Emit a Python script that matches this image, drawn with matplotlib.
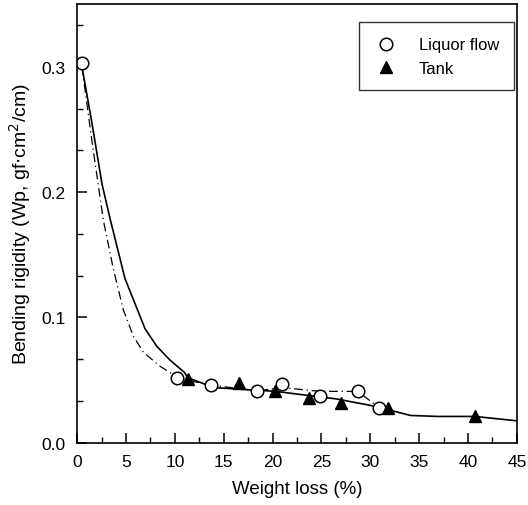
import matplotlib
matplotlib.use('Agg')
import matplotlib.pyplot as plt
from matplotlib.ticker import MultipleLocator, FormatStrFormatter

plt.rcParams['font.family'] = ['Liberation Sans', 'DejaVu Sans']

# Liquor flow (open circles)
liquor_x = [0.5, 10.2, 13.7, 18.4, 21.0, 24.9, 28.7, 30.9]
liquor_y = [0.303, 0.0516, 0.046, 0.0414, 0.047, 0.0374, 0.041, 0.028]

# Tank (filled triangles)
tank_x = [11.3, 16.6, 20.3, 23.7, 27.0, 31.8, 40.7]
tank_y = [0.051, 0.048, 0.041, 0.0355, 0.0315, 0.028, 0.021]

# fitted curve for tank (solid)
tank_fit_x = [0.5, 1.5, 2.56, 3.4, 4.9, 6.95, 8.15, 9.5, 11.0, 11.3, 14.0, 20.3, 26.5, 29.9, 32.0, 34.1, 36.9, 40.7, 45.0]
tank_fit_y = [0.300, 0.256, 0.206, 0.178, 0.131, 0.091, 0.077, 0.066, 0.056, 0.052, 0.044, 0.041, 0.035, 0.030, 0.026, 0.0218, 0.021, 0.021, 0.0175]

# dash-dot curve for liquor flow, then through the points
liquor_fit_x = [0.5, 1.53, 2.7, 3.7, 4.73, 5.76, 6.8, 8.5, 9.7, 10.2, 13.7, 18.4, 21.0, 24.9, 28.7, 30.9]
liquor_fit_y = [0.300, 0.240, 0.177, 0.139, 0.106, 0.085, 0.072, 0.061, 0.055, 0.0516, 0.046, 0.0414, 0.044, 0.041, 0.041, 0.028]

fig = plt.figure(figsize=(5.28, 5.06), dpi=100)
ax = fig.add_axes([0.146, 0.123, 0.833, 0.867])

ax.plot(liquor_fit_x, liquor_fit_y, color='black', linestyle=(0, (7, 3, 1, 3)), linewidth=0.9)
ax.plot(tank_fit_x, tank_fit_y, color='black', linestyle='-', linewidth=1.2)

ax.plot(liquor_x, liquor_y, 'o', markersize=9, markerfacecolor='white',
        markeredgecolor='black', markeredgewidth=1.1, label='Liquor flow')
ax.plot(tank_x, tank_y, '^', markersize=8.5, color='black', label='Tank')

ax.set_xlim(0, 45)
ax.set_ylim(0, 0.35)
ax.xaxis.set_major_locator(MultipleLocator(5))
ax.xaxis.set_minor_locator(MultipleLocator(2.5))
ax.yaxis.set_major_locator(MultipleLocator(0.1))
ax.yaxis.set_minor_locator(MultipleLocator(0.1 / 3))
ax.yaxis.set_major_formatter(FormatStrFormatter('%.1f'))
ax.tick_params(which='both', direction='in', top=False, right=False, labelsize=12.5, pad=8)
ax.tick_params(which='major', length=7, width=1.1)
ax.tick_params(which='minor', length=4, width=1.0)
for s in ax.spines.values():
    s.set_linewidth(1.2)

ax.set_xlabel('Weight loss (%)', fontsize=13.5, labelpad=8)
ax.set_ylabel('Bending rigidity (Wp, gf$\\cdot$cm$^2$/cm)', fontsize=14, labelpad=6)

leg = ax.legend(loc='upper right', fontsize=11.9, frameon=True, fancybox=False,
                edgecolor='black', borderpad=0.9, handlelength=1.5, handletextpad=1.2,
                labelspacing=0.5, borderaxespad=0, bbox_to_anchor=(0.993, 0.958))
leg.get_frame().set_linewidth(1.0)

plt.savefig('out.png', dpi=100)
plt.close()
